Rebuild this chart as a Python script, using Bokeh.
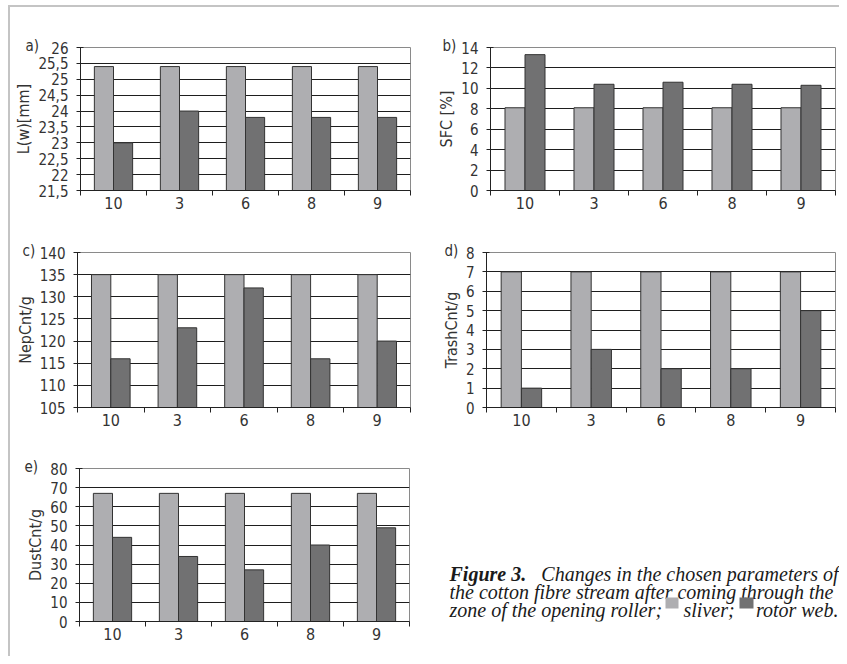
from bokeh.plotting import figure
from bokeh.models import FixedTicker, CustomJSTickFormatter, Range1d
from bokeh.layouts import row, column
from bokeh.core.properties import value
from bokeh.embed import file_html
from bokeh.resources import INLINE

categories = ["10", "3", "6", "8", "9"]
lw_sliver = [25.4, 25.4, 25.4, 25.4, 25.4]
lw_rotor = [23.0, 24.0, 23.8, 23.8, 23.8]
sfc_sliver = [8.1, 8.1, 8.1, 8.1, 8.1]
sfc_rotor = [13.3, 10.4, 10.6, 10.4, 10.3]
nep_sliver = [135, 135, 135, 135, 135]
nep_rotor = [116, 123, 132, 116, 120]
trash_sliver = [7, 7, 7, 7, 7]
trash_rotor = [1, 3, 2, 2, 5]
dust_sliver = [67, 67, 67, 67, 67]
dust_rotor = [44, 34, 27, 40, 49]

SLIVER = "#AEAEB1"
ROTOR = "#717172"
AXFONT = "DejaVu Sans Condensed"
CAPFONT = "Liberation Serif"
TXT = "#333333"


def panel(tag, ylabel, sliver, rotor, ymin, ymax, step, w, h, bl, br, bt, bb, tag_dx):
    n = len(categories)
    p = figure(width=w, height=h, x_range=Range1d(0, n), y_range=Range1d(ymin, ymax),
               output_backend="svg", toolbar_location=None, title=tag,
               min_border_left=bl, min_border_right=br, min_border_top=bt, min_border_bottom=bb)
    p.title.align = "left"
    p.title.offset = tag_dx
    p.title.standoff = -14
    p.title.text_font = AXFONT
    p.title.text_font_size = "15px"
    p.title.text_font_style = "normal"
    p.title.text_color = TXT

    xs = [i + 0.5 for i in range(n)]
    bw = 0.29
    p.vbar(x=[x - bw / 2 for x in xs], top=sliver, bottom=ymin, width=bw,
           fill_color=SLIVER, line_color="#333333", line_width=1)
    p.vbar(x=[x + bw / 2 for x in xs], top=rotor, bottom=ymin, width=bw,
           fill_color=ROTOR, line_color="#333333", line_width=1)
    nt = int(round((ymax - ymin) / step))
    ticks = [round(ymin + k * step, 3) for k in range(nt + 1)]
    p.xgrid.visible = False
    p.ygrid.ticker = FixedTicker(ticks=ticks[1:-1])
    p.ygrid.grid_line_color = "#1e1e1e"
    p.ygrid.grid_line_width = 1
    p.outline_line_color = "#8a8a8a"
    p.outline_line_width = 1
    p.background_fill_color = "white"
    p.border_fill_color = "white"

    ya = p.yaxis[0]
    ya.ticker = FixedTicker(ticks=ticks)
    ya.formatter = CustomJSTickFormatter(code="return String(tick).replace('.', ',')")
    ya.axis_line_color = "#222222"
    ya.major_tick_line_color = "#222222"
    ya.major_tick_in = 3
    ya.major_tick_out = 4
    ya.minor_tick_line_color = None
    ya.major_label_standoff = 8
    ya.major_label_text_font = AXFONT
    ya.major_label_text_font_size = "15px"
    ya.major_label_text_color = TXT
    ya.axis_label = ylabel
    ya.axis_label_text_font = AXFONT
    ya.axis_label_text_font_size = "16px"
    ya.axis_label_text_font_style = "normal"
    ya.axis_label_text_color = TXT
    ya.axis_label_standoff = 2

    xa = p.xaxis[0]
    xa.ticker = FixedTicker(ticks=xs, minor_ticks=list(range(n + 1)))
    xa.formatter = CustomJSTickFormatter(args=dict(cats=categories),
                                         code="return cats[Math.floor(tick)]")
    xa.axis_line_color = "#222222"
    xa.major_tick_line_color = None
    xa.major_tick_in = 0
    xa.major_tick_out = 0
    xa.minor_tick_line_color = "#222222"
    xa.minor_tick_in = 0
    xa.minor_tick_out = 5
    xa.major_label_standoff = 1
    xa.major_label_text_font = AXFONT
    xa.major_label_text_font_size = "16px"
    xa.major_label_text_color = TXT
    return p


pa = panel("a)", "L(w)[mm]", lw_sliver, lw_rotor, 21.5, 26, 0.5, 410, 223, 70, 10, 40, 40, -55)
pb = panel("b)", "SFC [%]", sfc_sliver, sfc_rotor, 0, 14, 2, 419, 223, 70, 4, 40, 38, -48)
pc = panel("c)", "NepCnt/g", nep_sliver, nep_rotor, 105, 140, 5, 410, 215, 67, 10, 22, 38, -55)
pd = panel("d)", "TrashCnt/g", trash_sliver, trash_rotor, 0, 8, 1, 419, 215, 66, 4, 22, 37, -42)
pe = panel("e)", "DustCnt/g", dust_sliver, dust_rotor, 0, 80, 10, 410, 211, 69, 11, 23, 35, -55)

# caption panel: frame aligned with panel e's frame (pixel coordinates from frame bottom)
cw, ch = 419, 211
cbt, cbb = 23, 35
cap = figure(title=None, width=cw, height=ch, x_range=Range1d(0, cw), y_range=Range1d(0, ch - cbt - cbb),
             output_backend="svg", toolbar_location=None,
             x_axis_location=None, y_axis_location=None,
             min_border_left=0, min_border_right=0, min_border_top=cbt, min_border_bottom=cbb)
cap.grid.visible = False
cap.outline_line_color = None
fs = "20px"
tc = "#1a1a1a"
left, right = 29, 418
y1, y2, y3 = 48, 30, 12
cap.text(x=[left], y=[y1], text=["Figure 3."], text_font=value(CAPFONT), text_font_style="bold italic",
         text_font_size=fs, text_color=tc, text_baseline="alphabetic", text_align="left")
cap.text(x=[right], y=[y1], text=["Changes in the chosen parameters of"], text_font=value(CAPFONT),
         text_font_style="italic", text_font_size=fs, text_color=tc, text_baseline="alphabetic", text_align="right")
cap.text(x=[left], y=[y2], text=["the cotton fibre stream after coming through the"], text_font=value(CAPFONT),
         text_font_style="italic", text_font_size=fs, text_color=tc, text_baseline="alphabetic", text_align="left")
cap.text(x=[left], y=[y3], text=["zone of the opening roller;"], text_font=value(CAPFONT),
         text_font_style="italic", text_font_size=fs, text_color=tc, text_baseline="alphabetic", text_align="left")
cap.quad(left=[245], right=[258], bottom=[y3 + 1], top=[y3 + 12], fill_color=SLIVER, line_color=None)
cap.text(x=[263], y=[y3], text=["sliver;"], text_font=value(CAPFONT),
         text_font_style="italic", text_font_size=fs, text_color=tc, text_baseline="alphabetic", text_align="left")
cap.quad(left=[319], right=[333], bottom=[y3 + 1], top=[y3 + 12], fill_color=ROTOR, line_color=None)
cap.text(x=[right], y=[y3], text=["rotor web."], text_font=value(CAPFONT),
         text_font_style="italic", text_font_size=fs, text_color=tc, text_baseline="alphabetic", text_align="right")

layout = column(row(pa, pb), row(pc, pd), row(pe, cap),
                styles={"margin-left": "8px", "margin-top": "5px",
                        "border-top": "2px solid #c4c4c4", "border-left": "2px solid #c4c4c4"})

open("out.html", "w").write(file_html(layout, INLINE))
